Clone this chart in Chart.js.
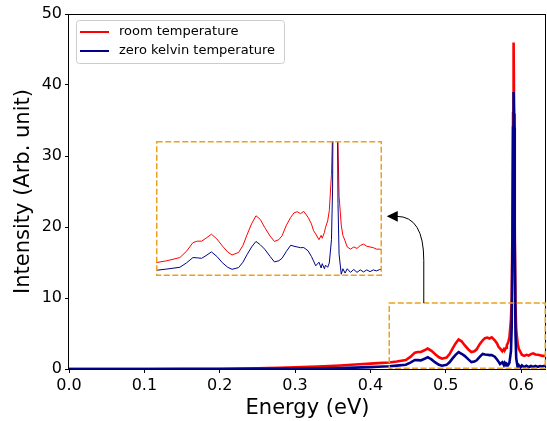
<!DOCTYPE html>
<html>
<head>
<meta charset="utf-8">
<script src="https://cdn.jsdelivr.net/npm/chart.js@4.4.1/dist/chart.umd.min.js"></script>
<style>
  body { margin: 0; background: #fff; }
  #wrap { position: relative; width: 547px; height: 421px; }
  #inset-box { position: absolute; background: #fff; }
</style>
</head>
<body>
<div id="wrap">
  <canvas id="main" width="547" height="421"></canvas>
  <div id="inset-box"><canvas id="inset"></canvas></div>
</div>
<script>
// Energy grid (eV)
const energy = [0, 0.05, 0.1, 0.15, 0.2, 0.25, 0.28, 0.3, 0.33, 0.36, 0.38, 0.4, 0.41, 0.425,
  0.435, 0.447, 0.453, 0.459, 0.463, 0.467, 0.471, 0.476, 0.481, 0.486, 0.491, 0.495, 0.501,
  0.505, 0.509, 0.513, 0.517, 0.521, 0.525, 0.53, 0.534, 0.538, 0.541, 0.545, 0.549, 0.552,
  0.555, 0.558, 0.561, 0.565, 0.568, 0.570, 0.572, 0.575, 0.577, 0.578, 0.580, 0.581, 0.583,
  0.5845, 0.5865, 0.5875, 0.5885, 0.5893, 0.590, 0.5907, 0.5915, 0.5925, 0.5935, 0.5955, 0.597, 0.599,
  0.601, 0.604, 0.607, 0.610, 0.613, 0.616, 0.619, 0.622, 0.625, 0.628, 0.631, 0.633];

const roomTemp = [0, 0, 0.01, 0.02, 0.04, 0.1, 0.17, 0.24, 0.36, 0.5, 0.63, 0.76, 0.83, 0.92,
  1.05, 1.27, 1.7, 2.3, 2.4, 2.4, 2.6, 2.88, 2.55, 2.08, 1.65, 1.45, 1.62,
  2.1, 2.88, 3.6, 4.15, 3.9, 3.35, 2.75, 2.38, 2.5, 2.77, 3.5, 4.04, 4.35,
  4.43, 4.3, 4.45, 4.04, 3.6, 3.12, 2.9, 2.5, 2.8, 2.6, 3.0, 3.35, 3.8,
  4.5, 7, 10, 20, 36, 46, 36, 20, 9, 5.5, 3.5, 2.8, 2.42,
  2.0, 1.85, 2.0, 1.9, 2.1, 2.2, 2.05, 2.0, 1.95, 1.85, 1.85, 1.8];

const zeroKelvin = [0, 0, 0, 0.01, 0.01, 0.02, 0.04, 0.06, 0.1, 0.15, 0.2, 0.27, 0.32, 0.39,
  0.48, 0.6, 0.9, 1.27, 1.25, 1.22, 1.4, 1.66, 1.35, 0.92, 0.6, 0.46, 0.58,
  0.95, 1.5, 2.0, 2.38, 2.15, 1.85, 1.35, 0.97, 1.05, 1.22, 1.7, 2.12, 2.05,
  2.0, 1.95, 1.96, 1.73, 1.35, 1.04, 0.7, 0.95, 0.55, 0.85, 0.5, 0.75, 0.6,
  0.9, 2.5, 6, 18, 34, 39, 34, 18, 5, 1.5, 0.12, 0.5, 0.2,
  0.5, 0.25, 0.45, 0.25, 0.42, 0.28, 0.42, 0.3, 0.42, 0.35, 0.45, 0.46];

const seriesNames = ['room temperature', 'zero kelvin temperature'];
const xTicks = [0, 0.1, 0.2, 0.3, 0.4, 0.5, 0.6];
const yTicks = [0, 10, 20, 30, 40, 50];

// zoomed window and where the inset sits (both in main data units)
const zoomRange = { eMin: 0.425, eMax: 0.633, iMin: 0, iMax: 9.3 };
const insetPlace = { eMin: 0.115, eMax: 0.415, iMin: 13.05, iMax: 32.05 };

const RED = '#ff0000';
const BLUE = '#00008b';
const ORANGE = '#eba21d';
const FONT = 'DejaVu Sans';

const toPoints = (ys) => energy.map((e, i) => ({ x: e, y: ys[i] }));

function dashedRect(ctx, x, y, w, h) {
  ctx.save();
  ctx.strokeStyle = ORANGE;
  ctx.lineWidth = 1.5;
  ctx.setLineDash([6, 2.5]);
  ctx.strokeRect(x, y, w, h);
  ctx.restore();
}

const mainDecor = {
  id: 'mainDecor',
  afterDraw(chart) {
    const { ctx, chartArea: a, scales: { x, y } } = chart;
    // full frame
    ctx.save();
    ctx.strokeStyle = '#000';
    ctx.lineWidth = 1;
    ctx.strokeRect(a.left - 0.5, a.top + 0.5, a.right - a.left, a.bottom - a.top);
    ctx.restore();

    // zoom window
    const zx0 = x.getPixelForValue(zoomRange.eMin), zx1 = x.getPixelForValue(zoomRange.eMax);
    const zy0 = y.getPixelForValue(zoomRange.iMax), zy1 = y.getPixelForValue(zoomRange.iMin);
    dashedRect(ctx, zx0, zy0, zx1 - zx0 - 0.75, zy1 - zy0 - 0.75);

    // curved arrow from zoom window to inset
    const sx = x.getPixelForValue(0.4708);
    const tipX = x.getPixelForValue(insetPlace.eMax) + 5;
    const tipY = y.getPixelForValue(21.5);
    ctx.save();
    ctx.strokeStyle = '#000';
    ctx.lineWidth = 1;
    ctx.beginPath();
    ctx.moveTo(sx, zy0);
    ctx.lineTo(sx, tipY + 44);
    ctx.quadraticCurveTo(sx, tipY, tipX + 10, tipY);
    ctx.stroke();
    ctx.fillStyle = '#000';
    ctx.beginPath();
    ctx.moveTo(tipX, tipY);
    ctx.lineTo(tipX + 11, tipY - 5.3);
    ctx.lineTo(tipX + 11, tipY + 5.3);
    ctx.closePath();
    ctx.fill();
    ctx.restore();

    // legend
    const lx = a.left + 7, ly = a.top + 6, lw = 208, lh = 43;
    ctx.save();
    ctx.fillStyle = 'rgba(255,255,255,0.8)';
    ctx.strokeStyle = '#cccccc';
    ctx.lineWidth = 1;
    ctx.beginPath();
    ctx.roundRect(lx + 0.5, ly + 0.5, lw, lh, 3);
    ctx.fill();
    ctx.stroke();
    ctx.font = '13px ' + FONT;
    ctx.textBaseline = 'middle';
    [RED, BLUE].forEach((c, i) => {
      const yy = ly + 12 + i * 19;
      ctx.strokeStyle = c;
      ctx.lineWidth = 2;
      ctx.beginPath();
      ctx.moveTo(lx + 4, yy);
      ctx.lineTo(lx + 33, yy);
      ctx.stroke();
      ctx.fillStyle = '#000';
      ctx.fillText(seriesNames[i], lx + 43, yy);
    });
    ctx.restore();
  }
};

// order: red drawn first, blue on top (as in the figure)
const mainChart = new Chart(document.getElementById('main'), {
  type: 'line',
  data: {
    datasets: [
      { label: seriesNames[0], data: toPoints(roomTemp), borderColor: RED, borderWidth: 2.6, order: 1 },
      { label: seriesNames[1], data: toPoints(zeroKelvin), borderColor: BLUE, borderWidth: 2.6, order: 0 }
    ]
  },
  options: {
    responsive: false,
    devicePixelRatio: 1,
    animation: false,
    parsing: false,
    elements: { point: { radius: 0 }, line: { tension: 0 } },
    layout: { padding: { left: 0, top: 14, right: 1, bottom: 0 } },
    plugins: { legend: { display: false }, tooltip: { enabled: false } },
    scales: {
      x: {
        type: 'linear', min: 0, max: 0.633,
        afterBuildTicks: (s) => { s.ticks = xTicks.map(v => ({ value: v })); },
        afterFit: (s) => { s.height = 52; },
        ticks: { color: '#000', font: { family: FONT, size: 16 }, padding: 3,
          callback: (v) => v.toFixed(1) },
        grid: { drawOnChartArea: false, color: '#000', tickLength: 4 },
        border: { display: false },
        title: { display: true, text: 'Energy (eV)', color: '#000',
          font: { family: FONT, size: 21 }, padding: { top: 0, bottom: 0 } }
      },
      y: {
        min: 0, max: 50,
        afterBuildTicks: (s) => { s.ticks = yTicks.map(v => ({ value: v })); },
        afterFit: (s) => { s.width = 69; },
        ticks: { color: '#000', font: { family: FONT, size: 16 }, padding: 3 },
        grid: { drawOnChartArea: false, color: '#000', tickLength: 4 },
        border: { display: false },
        title: { display: true, text: 'Intensity (Arb. unit)', color: '#000',
          font: { family: FONT, size: 21 }, padding: { top: 11, bottom: 0 } }
      }
    }
  },
  plugins: [mainDecor]
});

// place the inset from the main chart's scales
const sx = mainChart.scales.x, sy = mainChart.scales.y;
const ix0 = Math.round(sx.getPixelForValue(insetPlace.eMin));
const ix1 = Math.round(sx.getPixelForValue(insetPlace.eMax));
const iy0 = Math.round(sy.getPixelForValue(insetPlace.iMax));
const iy1 = Math.round(sy.getPixelForValue(insetPlace.iMin));
const box = document.getElementById('inset-box');
box.style.left = ix0 + 'px';
box.style.top = iy0 + 'px';
const insetCanvas = document.getElementById('inset');
insetCanvas.width = ix1 - ix0;
insetCanvas.height = iy1 - iy0;

new Chart(insetCanvas, {
  type: 'line',
  data: {
    datasets: [
      { data: toPoints(roomTemp), borderColor: RED, borderWidth: 1, order: 1 },
      { data: toPoints(zeroKelvin), borderColor: BLUE, borderWidth: 1, order: 0 }
    ]
  },
  options: {
    responsive: false,
    devicePixelRatio: 1,
    animation: false,
    parsing: false,
    elements: { point: { radius: 0 }, line: { tension: 0 } },
    layout: { padding: 0 },
    plugins: { legend: { display: false }, tooltip: { enabled: false } },
    scales: {
      x: { type: 'linear', display: false, min: zoomRange.eMin, max: zoomRange.eMax },
      y: { display: false, min: zoomRange.iMin, max: zoomRange.iMax }
    }
  },
  plugins: [{
    id: 'insetFrame',
    afterDraw(chart) {
      dashedRect(chart.ctx, 0.75, 0.75, chart.width - 1.5, chart.height - 1.5);
    }
  }]
});
</script>
</body>
</html>
